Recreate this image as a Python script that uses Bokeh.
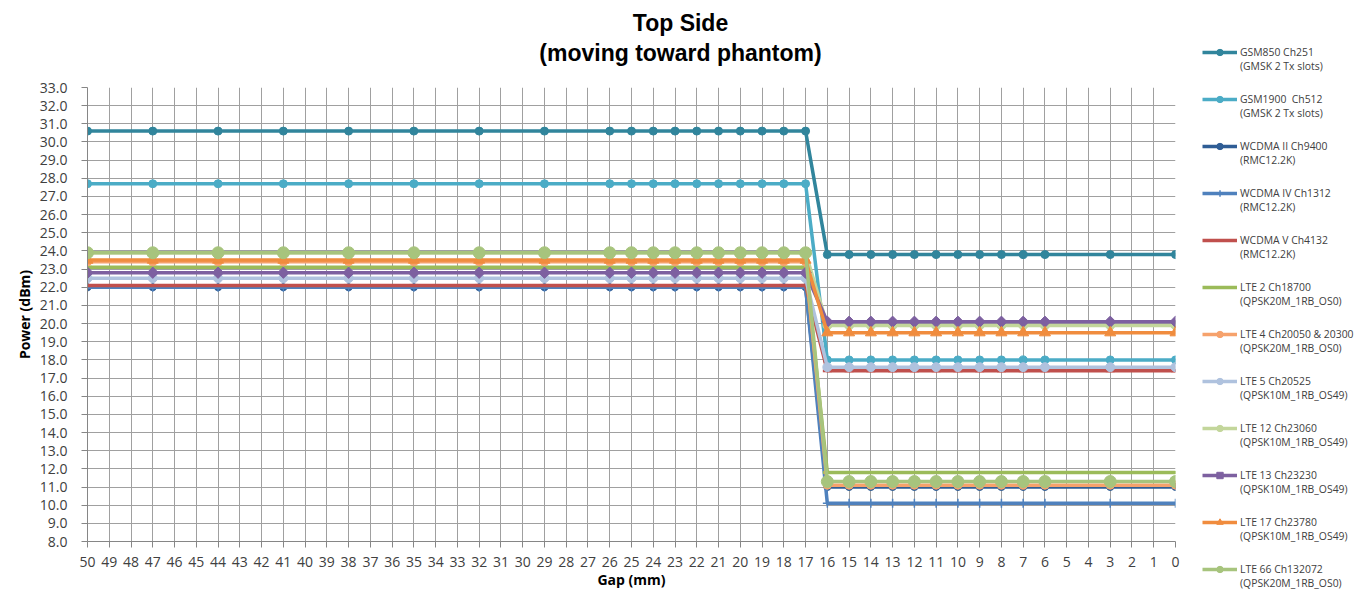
from bokeh.plotting import figure
from bokeh.layouts import row, column
from bokeh.models import Range1d, FixedTicker, PrintfTickFormatter, Legend, LegendItem, Label
from bokeh.embed import file_html
from bokeh.resources import INLINE
import math

# ---------------- data ----------------
gaps = [50, 47, 44, 41, 38, 35, 32, 29, 26, 25, 24, 23, 22, 21, 20, 19, 18, 17,
        16, 15, 14, 13, 12, 11, 10, 9, 8, 7, 6, 3, 0]

gsm850_ch251 = [30.6, 30.6, 30.6, 30.6, 30.6, 30.6, 30.6, 30.6, 30.6, 30.6, 30.6, 30.6, 30.6, 30.6, 30.6, 30.6, 30.6, 30.6,
                23.8, 23.8, 23.8, 23.8, 23.8, 23.8, 23.8, 23.8, 23.8, 23.8, 23.8, 23.8, 23.8]
gsm1900_ch512 = [27.7, 27.7, 27.7, 27.7, 27.7, 27.7, 27.7, 27.7, 27.7, 27.7, 27.7, 27.7, 27.7, 27.7, 27.7, 27.7, 27.7, 27.7,
                 18.0, 18.0, 18.0, 18.0, 18.0, 18.0, 18.0, 18.0, 18.0, 18.0, 18.0, 18.0, 18.0]
wcdma2_ch9400 = [22.0, 22.0, 22.0, 22.0, 22.0, 22.0, 22.0, 22.0, 22.0, 22.0, 22.0, 22.0, 22.0, 22.0, 22.0, 22.0, 22.0, 22.0,
                 11.0, 11.0, 11.0, 11.0, 11.0, 11.0, 11.0, 11.0, 11.0, 11.0, 11.0, 11.0, 11.0]
wcdma4_ch1312 = [22.0, 22.0, 22.0, 22.0, 22.0, 22.0, 22.0, 22.0, 22.0, 22.0, 22.0, 22.0, 22.0, 22.0, 22.0, 22.0, 22.0, 22.0,
                 10.1, 10.1, 10.1, 10.1, 10.1, 10.1, 10.1, 10.1, 10.1, 10.1, 10.1, 10.1, 10.1]
wcdma5_ch4132 = [22.1, 22.1, 22.1, 22.1, 22.1, 22.1, 22.1, 22.1, 22.1, 22.1, 22.1, 22.1, 22.1, 22.1, 22.1, 22.1, 22.1, 22.1,
                 17.4, 17.4, 17.4, 17.4, 17.4, 17.4, 17.4, 17.4, 17.4, 17.4, 17.4, 17.4, 17.4]
lte2_ch18700 = [23.1, 23.1, 23.1, 23.1, 23.1, 23.1, 23.1, 23.1, 23.1, 23.1, 23.1, 23.1, 23.1, 23.1, 23.1, 23.1, 23.1, 23.1,
                11.8, 11.8, 11.8, 11.8, 11.8, 11.8, 11.8, 11.8, 11.8, 11.8, 11.8, 11.8, 11.8]
lte4_ch20050 = [23.4, 23.4, 23.4, 23.4, 23.4, 23.4, 23.4, 23.4, 23.4, 23.4, 23.4, 23.4, 23.4, 23.4, 23.4, 23.4, 23.4, 23.4,
                11.1, 11.1, 11.1, 11.1, 11.1, 11.1, 11.1, 11.1, 11.1, 11.1, 11.1, 11.1, 11.1]
lte5_ch20525 = [22.5, 22.5, 22.5, 22.5, 22.5, 22.5, 22.5, 22.5, 22.5, 22.5, 22.5, 22.5, 22.5, 22.5, 22.5, 22.5, 22.5, 22.5,
                17.6, 17.6, 17.6, 17.6, 17.6, 17.6, 17.6, 17.6, 17.6, 17.6, 17.6, 17.6, 17.6]
lte12_ch23060 = [23.9, 23.9, 23.9, 23.9, 23.9, 23.9, 23.9, 23.9, 23.9, 23.9, 23.9, 23.9, 23.9, 23.9, 23.9, 23.9, 23.9, 23.9,
                 19.9, 19.9, 19.9, 19.9, 19.9, 19.9, 19.9, 19.9, 19.9, 19.9, 19.9, 19.9, 19.9]
lte13_ch23230 = [22.8, 22.8, 22.8, 22.8, 22.8, 22.8, 22.8, 22.8, 22.8, 22.8, 22.8, 22.8, 22.8, 22.8, 22.8, 22.8, 22.8, 22.8,
                 20.1, 20.1, 20.1, 20.1, 20.1, 20.1, 20.1, 20.1, 20.1, 20.1, 20.1, 20.1, 20.1]
lte17_ch23780 = [23.5, 23.5, 23.5, 23.5, 23.5, 23.5, 23.5, 23.5, 23.5, 23.5, 23.5, 23.5, 23.5, 23.5, 23.5, 23.5, 23.5, 23.5,
                 19.5, 19.5, 19.5, 19.5, 19.5, 19.5, 19.5, 19.5, 19.5, 19.5, 19.5, 19.5, 19.5]
lte66_ch132072 = [23.9, 23.9, 23.9, 23.9, 23.9, 23.9, 23.9, 23.9, 23.9, 23.9, 23.9, 23.9, 23.9, 23.9, 23.9, 23.9, 23.9, 23.9,
                  11.3, 11.3, 11.3, 11.3, 11.3, 11.3, 11.3, 11.3, 11.3, 11.3, 11.3, 11.3, 11.3]

series_labels = [
    "GSM850 Ch251\n(GMSK 2 Tx slots)",
    "GSM1900  Ch512\n(GMSK 2 Tx slots)",
    "WCDMA II Ch9400\n(RMC12.2K)",
    "WCDMA IV Ch1312\n(RMC12.2K)",
    "WCDMA V Ch4132\n(RMC12.2K)",
    "LTE 2 Ch18700\n(QPSK20M_1RB_OS0)",
    "LTE 4 Ch20050 & 20300\n(QPSK20M_1RB_OS0)",
    "LTE 5 Ch20525\n(QPSK10M_1RB_OS49)",
    "LTE 12 Ch23060\n(QPSK10M_1RB_OS49)",
    "LTE 13 Ch23230\n(QPSK10M_1RB_OS49)",
    "LTE 17 Ch23780\n(QPSK10M_1RB_OS49)",
    "LTE 66 Ch132072\n(QPSK20M_1RB_OS0)",
]
series_values = [gsm850_ch251, gsm1900_ch512, wcdma2_ch9400, wcdma4_ch1312, wcdma5_ch4132,
                 lte2_ch18700, lte4_ch20050, lte5_ch20525, lte12_ch23060, lte13_ch23230,
                 lte17_ch23780, lte66_ch132072]
x_ticks = list(range(0, 51))
y_ticks = list(range(8, 34))
title_line1 = "Top Side"
title_line2 = "(moving toward phantom)"

# ---------------- styles ----------------
colors = ["#31859C", "#4BACC6", "#2F5D95", "#4F81BD", "#C0504D", "#9BBB59",
          "#F6A26C", "#AFC2DE", "#C3D69B", "#7D60A0", "#F08C3E", "#A7C47D"]
markers = ["circle", "circle", "circle", "cross", "dash", "dash",
           "circle", "circle", "circle", "square", "triangle", "circle"]
msizes = [8, 8, 7, 9, 9, 9, 8, 9, 9, 8, 11, 12]
angles = [0, 0, 0, 0, 0, 0, 0, 0, 0, math.pi / 4, 0, 0]
nan = float("nan")

# ---------------- title strip ----------------
pt = figure(width=1190, height=70, output_backend="svg", toolbar_location=None, title=None,
            x_range=Range1d(0, 1190), y_range=Range1d(70, 0),
            x_axis_location=None, y_axis_location=None, min_border=0)
pt.outline_line_color = None
pt.grid.visible = False
pt.frame_align = False
title_style = dict(text_font="Liberation Sans", text_font_style="bold", text_font_size="23px",
                   text_color="#000000", text_align="center", text_baseline="middle")
pt.add_layout(Label(x=680, y=22, text=title_line1, **title_style))
pt.add_layout(Label(x=680, y=52, text=title_line2, **title_style))

# ---------------- main chart ----------------
p = figure(width=1190, height=524, output_backend="svg", toolbar_location=None,
           title=None,
           x_range=Range1d(50, 0), y_range=Range1d(8, 33),
           min_border_left=87, min_border_right=15, min_border_top=17, min_border_bottom=53)
p.outline_line_color = None
p.background_fill_color = "white"
p.frame_align = False

p.xaxis.ticker = FixedTicker(ticks=x_ticks)
p.yaxis.ticker = FixedTicker(ticks=y_ticks)
p.yaxis.formatter = PrintfTickFormatter(format="%.1f")
for ax in (p.xaxis, p.yaxis):
    ax.axis_line_color = "#868686"
    ax.major_tick_line_color = "#868686"
    ax.major_tick_out = 6
    ax.major_tick_in = 0
    ax.minor_tick_out = 0
    ax.minor_tick_in = 0
    ax.major_label_text_font = "Open Sans"
    ax.major_label_text_font_size = "14px"
    ax.major_label_text_color = "#404040"
    ax.axis_label_text_font = "Open Sans"
    ax.axis_label_text_font_style = "bold"
    ax.axis_label_text_font_size = "14px"
    ax.axis_label_text_color = "#000000"
p.xaxis.major_label_standoff = 9
p.xaxis.axis_label_standoff = 0
p.yaxis.major_label_standoff = 14
p.yaxis.axis_label_standoff = 3
p.xaxis.axis_label = "Gap (mm)"
p.yaxis.axis_label = "Power (dBm)"

p.grid.grid_line_color = "#A0A0A0"
p.grid.grid_line_width = 1

# ---------------- legend strip ----------------
pl = figure(width=164, height=594, output_backend="svg", toolbar_location=None, title=None,
            x_range=Range1d(0, 1), y_range=Range1d(0, 1),
            x_axis_location=None, y_axis_location=None, min_border=0)
pl.outline_line_color = None
pl.grid.visible = False
pl.frame_align = False

items = []
for lab, vals, c, m, ms, ang in zip(series_labels, series_values, colors, markers, msizes, angles):
    lw = 3 if m == "dash" else (1.5 if m == "cross" else 1)
    p.line(gaps, vals, line_color=c, line_width=3.5, line_join="round")
    p.scatter(gaps, vals, marker=m, size=ms, angle=ang, fill_color=c, line_color=c, line_width=lw)
    # legend swatches: style carriers only, nothing plotted
    l_line = pl.line(x=[nan], y=[nan], line_color=c, line_width=3.5)
    l_pts = pl.scatter(x=[nan], y=[nan], marker=m, size=min(ms, 8), angle=ang,
                       fill_color=c, line_color=c, line_width=lw)
    # leading line break keeps the swatch level with the first text line
    items.append(LegendItem(label="\n" + lab, renderers=[l_line, l_pts]))

legend = Legend(items=items, location=(12, 4), orientation="vertical",
                label_text_font="Open Sans", label_text_font_size="10.4px",
                label_text_color="#404040", glyph_width=35, glyph_height=16,
                label_height=16, spacing=5, padding=0, margin=0,
                border_line_color=None, background_fill_alpha=0, label_standoff=3)
pl.add_layout(legend)

layout = row(column(pt, p), pl)
open("out.html", "w").write(file_html(layout, INLINE))
